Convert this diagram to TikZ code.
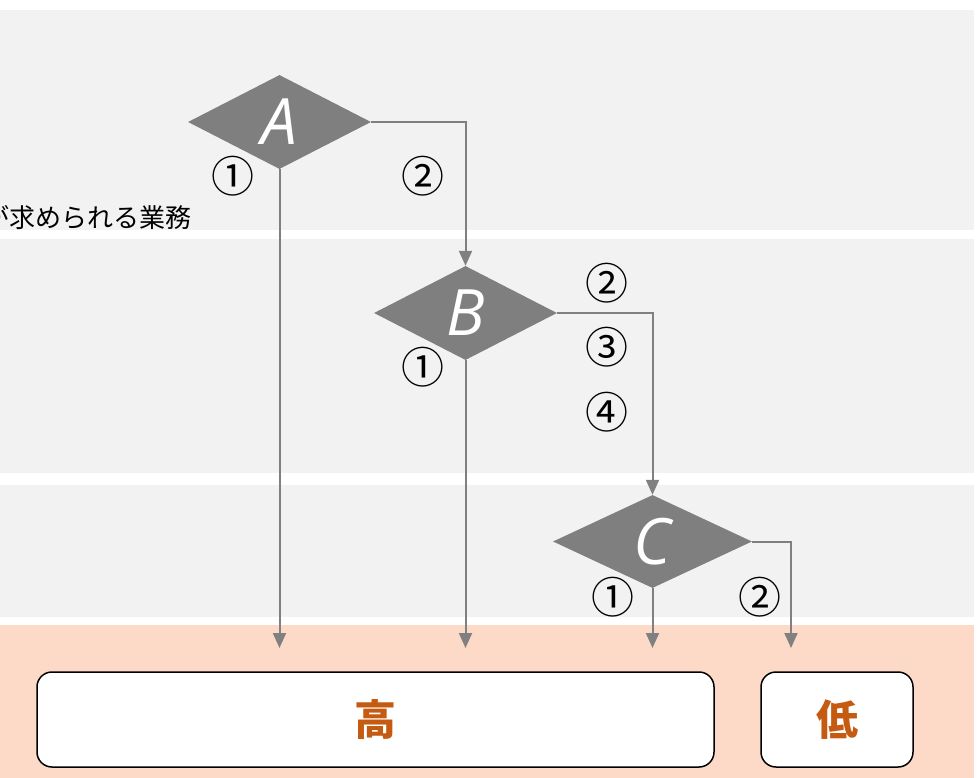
\documentclass[tikz,border=0pt]{standalone}
\usepackage{fontspec}
\newfontfamily\jp{Noto Sans CJK JP}
\newfontfamily\lat{Open Sans}
\usetikzlibrary{shapes.geometric,arrows.meta}
\definecolor{bandgray}{HTML}{F2F2F2}
\definecolor{salmon}{HTML}{FDD9C7}
\definecolor{diagray}{HTML}{7F7F7F}
\definecolor{congray}{HTML}{808080}
\definecolor{hicol}{HTML}{C55A11}
\begin{document}
\begin{tikzpicture}[x=1pt,y=-1pt,
  dec/.style={diamond, aspect=2, fill=diagray, inner sep=0pt, text=white,
    font=\lat\itshape\fontsize{64}{64}\selectfont},
  conn/.style={draw=congray, line width=2pt, -{Triangle[width=13pt,length=15pt]}},
  num/.style={font=\jp\fontsize{43}{43}\selectfont, inner sep=0pt},
  res/.style={draw=black, line width=1.5pt, fill=white, rounded corners=15pt,
    text=hicol, font=\jp\bfseries\fontsize{42}{42}\selectfont, minimum height=95pt}
]
\useasboundingbox (0,0) rectangle (978,778);
\clip (0,0) rectangle (978,778);
% bands
\fill[bandgray] (0,10) rectangle (974,230);
\fill[bandgray] (0,239) rectangle (974,473);
\fill[bandgray] (0,485) rectangle (974,617);
\fill[salmon] (0,625) rectangle (974,778);
% side text (cut at the left edge, as in the reference)
\node[font=\jp\fontsize{26}{26}\selectfont, anchor=east, inner sep=0pt] (side) at (192,218) {が求められる業務};
% decisions
\node[dec, minimum width=183pt, minimum height=94pt] (A) at (279.5,122) {A};
\node[dec, minimum width=183pt, minimum height=94pt] (B) at (465.5,313) {B};
\node[dec, minimum width=199pt, minimum height=93pt] (C) at (652.5,541.5) {C};
% end coordinates
\coordinate (eA) at (279.5,648);
\coordinate (eB) at (465.5,648);
\coordinate (eC) at (652.5,648);
\coordinate (eD) at (791,648);
% connectors
\draw[conn] (A.south) -- (eA);
\draw[conn] (A.east) -| (B.north);
\draw[conn] (B.south) -- (eB);
\draw[conn] (B.east) -| (C.north);
\draw[conn] (C.south) -- (eC);
\draw[conn] (C.east) -| (eD);
% labels
\node[num] (a1) at (233,176) {①};
\node[num] (a2) at (423,176) {②};
\node[num] (b1) at (423,367) {①};
\node[num] (b2) at (607,283) {②};
\node[num] (b3) at (607,347) {③};
\node[num] (b4) at (607,412) {④};
\node[num] (c1) at (613,597) {①};
\node[num] (c2) at (760,597) {②};
% results
\node[res, minimum width=677pt] (hi) at (375.5,719.5) {高};
\node[res, minimum width=152pt] (lo) at (837,719.5) {低};
\end{tikzpicture}
\end{document}
